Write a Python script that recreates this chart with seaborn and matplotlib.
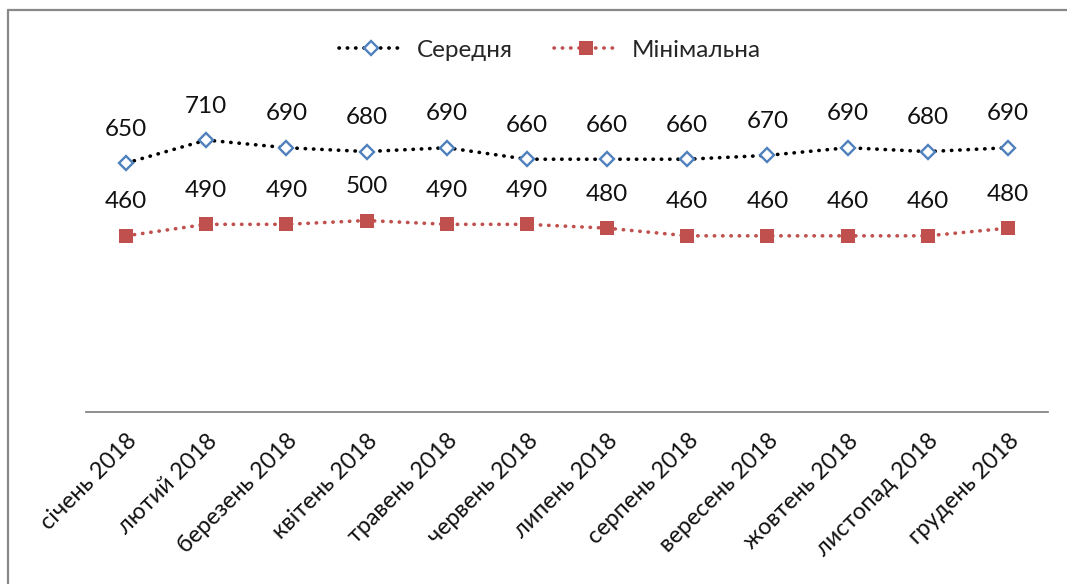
import matplotlib
matplotlib.use("Agg")
import matplotlib.pyplot as plt
import seaborn as sns
import pandas as pd
from matplotlib.lines import Line2D

months = ["січень 2018", "лютий 2018", "березень 2018", "квітень 2018", "травень 2018",
          "червень 2018", "липень 2018", "серпень 2018", "вересень 2018", "жовтень 2018",
          "листопад 2018", "грудень 2018"]
avg_vals = [650, 710, 690, 680, 690, 660, 660, 660, 670, 690, 680, 690]
min_vals = [460, 490, 490, 500, 490, 490, 480, 460, 460, 460, 460, 480]
series_names = ["Середня", "Мінімальна"]

sns.set_theme(style="white")
plt.rcParams['font.family'] = ['Lato', 'Open Sans', 'DejaVu Sans']

df = pd.DataFrame({"month": months, "avg": avg_vals, "min": min_vals})

fig = plt.figure(figsize=(10.67, 5.84), dpi=100)
ax = fig.add_axes([86/1067, 1 - 412/584, (1048-86)/1067, (412-105.6)/584])

blue = "#4F81BD"
red = "#C0504D"
dots = (0, (0.1, 2.2))

sns.lineplot(data=df, x="month", y="avg", ax=ax, color="black", linewidth=2.6,
             linestyle=dots, dash_capstyle="round", marker="D", markersize=7.4,
             markerfacecolor="white", markeredgecolor=blue, markeredgewidth=1.7, sort=False)
sns.lineplot(data=df, x="month", y="min", ax=ax, color=red, linewidth=2.6,
             linestyle=dots, dash_capstyle="round", marker="s", markersize=9.8,
             markerfacecolor=red, markeredgecolor=red, markeredgewidth=0, sort=False)

for i, (a, m) in enumerate(zip(avg_vals, min_vals)):
    ax.annotate(str(a), (i, a), xytext=(0, 24.5), textcoords="offset points",
                ha="center", va="center", fontsize=17.5, color="#111111")
    ax.annotate(str(m), (i, m), xytext=(0, 24.5), textcoords="offset points",
                ha="center", va="center", fontsize=17.5, color="#111111")

ax.set_xlim(-0.5, len(months) - 0.5)
ax.set_ylim(0, 800)
ax.set_xlabel("")
ax.set_ylabel("")
ax.set_yticks([])
ax.set_xticks(range(len(months)))
ax.set_xticklabels(months, rotation=45, ha="right", rotation_mode="anchor", fontsize=16.8, color="#111111")
ax.tick_params(axis="x", length=0, pad=13)
for s in ["left", "top", "right"]:
    ax.spines[s].set_visible(False)
ax.spines["bottom"].set_color("#868686")
ax.spines["bottom"].set_linewidth(1.3)

h1 = Line2D([], [], color="black", linewidth=2.6, linestyle=dots, dash_capstyle="round",
            marker="D", markersize=7.4, markerfacecolor="white", markeredgecolor=blue, markeredgewidth=1.7)
h2 = Line2D([], [], color=red, linewidth=2.6, linestyle=dots, dash_capstyle="round",
            marker="s", markersize=9.8, markerfacecolor=red, markeredgewidth=0)
fig.legend([h1, h2], series_names, loc="center", bbox_to_anchor=(550/1067, 1 - 50/584),
           ncol=2, frameon=False, fontsize=17.5, handlelength=2.6, columnspacing=1.7, handletextpad=0.6)

# chart frame (partially cropped)
fig.add_artist(Line2D([8/1067, 1.0], [1 - 10/584, 1 - 10/584], transform=fig.transFigure,
                      color="#888888", linewidth=1.6))
fig.add_artist(Line2D([8/1067, 8/1067], [1 - 10/584, 0], transform=fig.transFigure,
                      color="#888888", linewidth=1.6))

fig.savefig("out.png", dpi=100)
